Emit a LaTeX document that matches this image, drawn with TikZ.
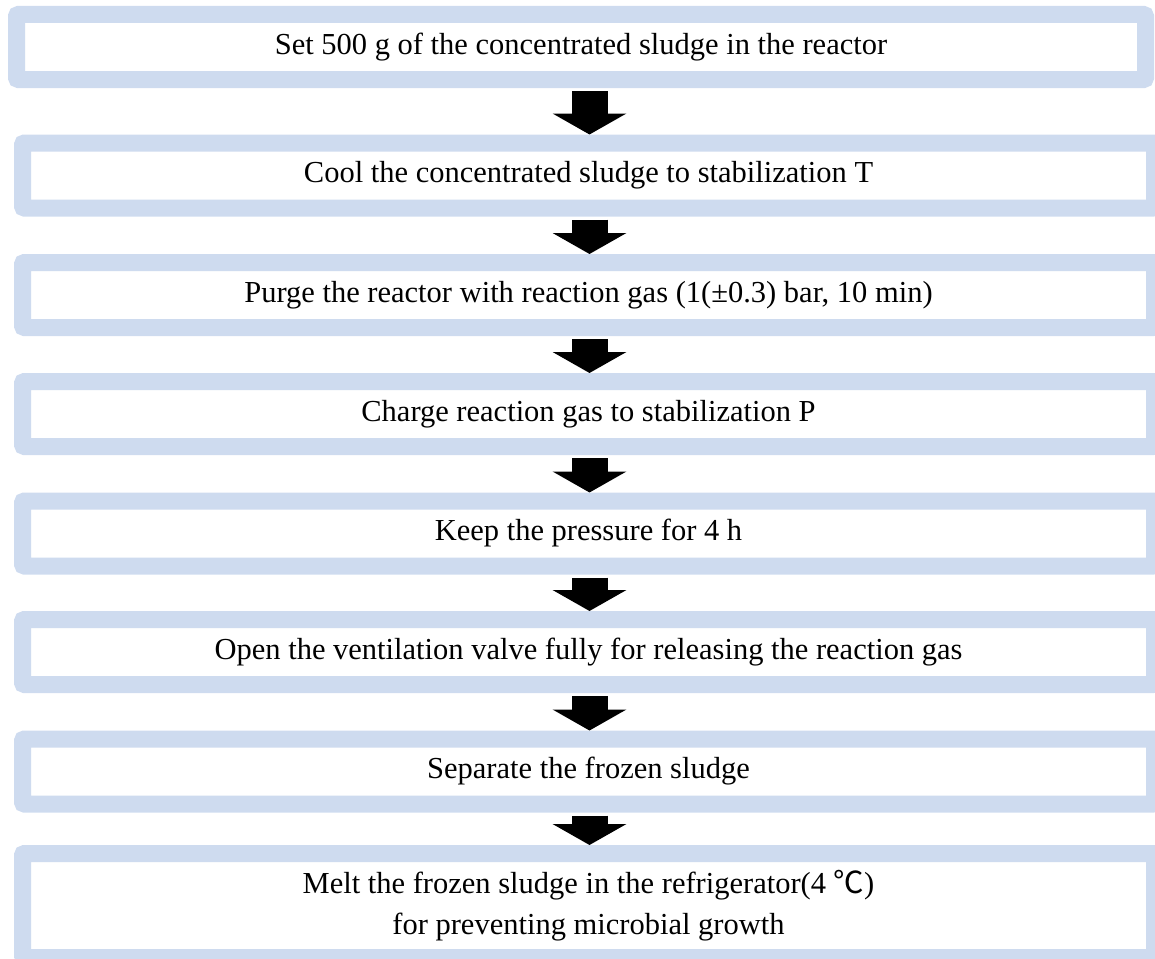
\documentclass[tikz,border=0pt]{standalone}
\usepackage{fontspec}
\setmainfont{Liberation Serif}
\newfontfamily\cjkfont{Noto Sans CJK KR}
\usepackage{xcolor}
\usepackage{tikz}
\usetikzlibrary{arrows.meta, positioning, calc}
\definecolor{boxblue}{RGB}{206,219,239}
\definecolor{mydark}{RGB}{0,0,0}
\tikzset{
  stepbox/.style={rectangle, draw=boxblue, fill=white, line width=17pt,
    rounded corners=2pt, minimum width=1132pt, minimum height=65pt,
    align=center, font=\fontsize{30.5}{41}\selectfont, inner sep=0pt},
  bigarrow/.style={-{Triangle[width=73pt, length=21pt]}, line width=36pt,
    color=mydark, shorten <=3pt}
}
\begin{document}
\begin{tikzpicture}[x=1pt, y=-1pt]
  \useasboundingbox (0,0) rectangle (1155,958);

  \node[stepbox, minimum width=1129pt] (s1) at (581,47) {Set 500 g of the concentrated sludge in the reactor};
  \node[stepbox] (s2) at (588.5,175.5) {Cool the concentrated sludge to stabilization T};
  \node[stepbox] (s3) at (588.5,295) {Purge the reactor with reaction gas (1(±0.3) bar, 10 min)};
  \node[stepbox] (s4) at (588.5,414) {Charge reaction gas to stabilization P};
  \node[stepbox] (s5) at (588.5,533.5) {Keep the pressure for 4 h};
  \node[stepbox] (s6) at (588.5,652) {Open the ventilation valve fully for releasing the reaction gas};
  \node[stepbox] (s7) at (588.5,771.5) {Separate the frozen sludge};
  \node[stepbox, minimum height=104pt] (s8) at (588.5,905.5) {Melt the frozen sludge in the refrigerator(4 {\cjkfont ℃})\\for preventing microbial growth};

  % Block arrows between steps
  \foreach \a/\b in {s1/s2, s2/s3, s3/s4, s4/s5, s5/s6, s6/s7, s7/s8}
    \draw[bigarrow] ($(\a.south -| \b.north)+(1,0)$) -- ($(\b.north)+(1,0)$);
\end{tikzpicture}
\end{document}
